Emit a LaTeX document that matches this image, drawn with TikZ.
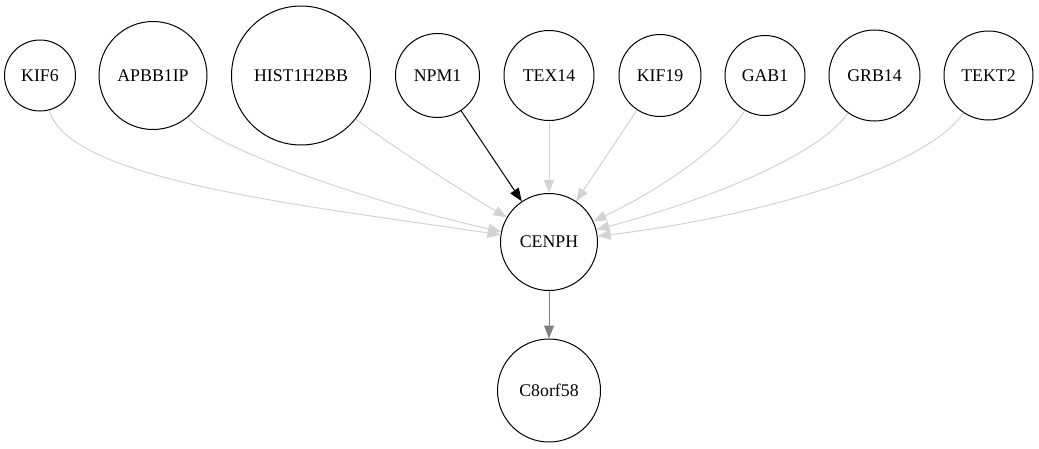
\documentclass[tikz,border=0pt]{standalone}
\usepackage{fontspec}
\setmainfont{Liberation Serif}
\usetikzlibrary{arrows.meta}
\definecolor{edgelight}{HTML}{D3D3D3}
\definecolor{edgemid}{HTML}{808080}
\tikzset{
  gene/.style={circle, draw=black, line width=1pt, inner sep=0pt, minimum size=#1, font=\fontsize{17.8}{20}\selectfont},
  weak/.style={draw=edgelight, line width=1pt, -{Triangle[length=13pt,width=10pt]}},
  strong/.style={draw=black, line width=1pt, -{Triangle[length=13pt,width=10pt]}},
  medium/.style={draw=edgemid, line width=1pt, -{Triangle[length=13pt,width=10pt]}}
}
\begin{document}
\begin{tikzpicture}[x=1pt,y=-1pt]
\useasboundingbox (0,0) rectangle (1039,448);
\node[gene=71pt]  (kif6)  at (40,75.5)   {KIF6};
\node[gene=108pt] (apbb)  at (153,75.5)  {APBB1IP};
\node[gene=139pt] (hist)  at (301,75.5)  {HIST1H2BB};
\node[gene=84pt]  (npm1)  at (437.5,75.5){NPM1};
\node[gene=90pt]  (tex14) at (549,75.5)  {TEX14};
\node[gene=82pt]  (kif19) at (660,75.5)  {KIF19};
\node[gene=80pt]  (gab1)  at (765,75.5)  {GAB1};
\node[gene=91pt]  (grb14) at (874.5,75.5){GRB14};
\node[gene=89pt]  (tekt2) at (988.5,75.5){TEKT2};
\node[gene=97pt]  (cenph) at (549,242)   {CENPH};
\node[gene=103pt] (c8)    at (549,390.5) {C8orf58};

\draw[weak] (kif6) .. controls (68,180) and (300,205) .. (cenph);
\draw[weak] (apbb) .. controls (215,150) and (380,205) .. (cenph);
\draw[weak] (hist) .. controls (380,138) and (460,190) .. (cenph);
\draw[strong] (npm1) -- (cenph);
\draw[weak] (tex14) -- (cenph);
\draw[weak] (kif19) -- (cenph);
\draw[weak] (gab1) .. controls (725,145) and (660,190) .. (cenph);
\draw[weak] (grb14) .. controls (815,160) and (690,205) .. (cenph);
\draw[weak] (tekt2) .. controls (925,170) and (750,218) .. (cenph);
\draw[medium] (cenph) -- (c8);
\end{tikzpicture}
\end{document}
